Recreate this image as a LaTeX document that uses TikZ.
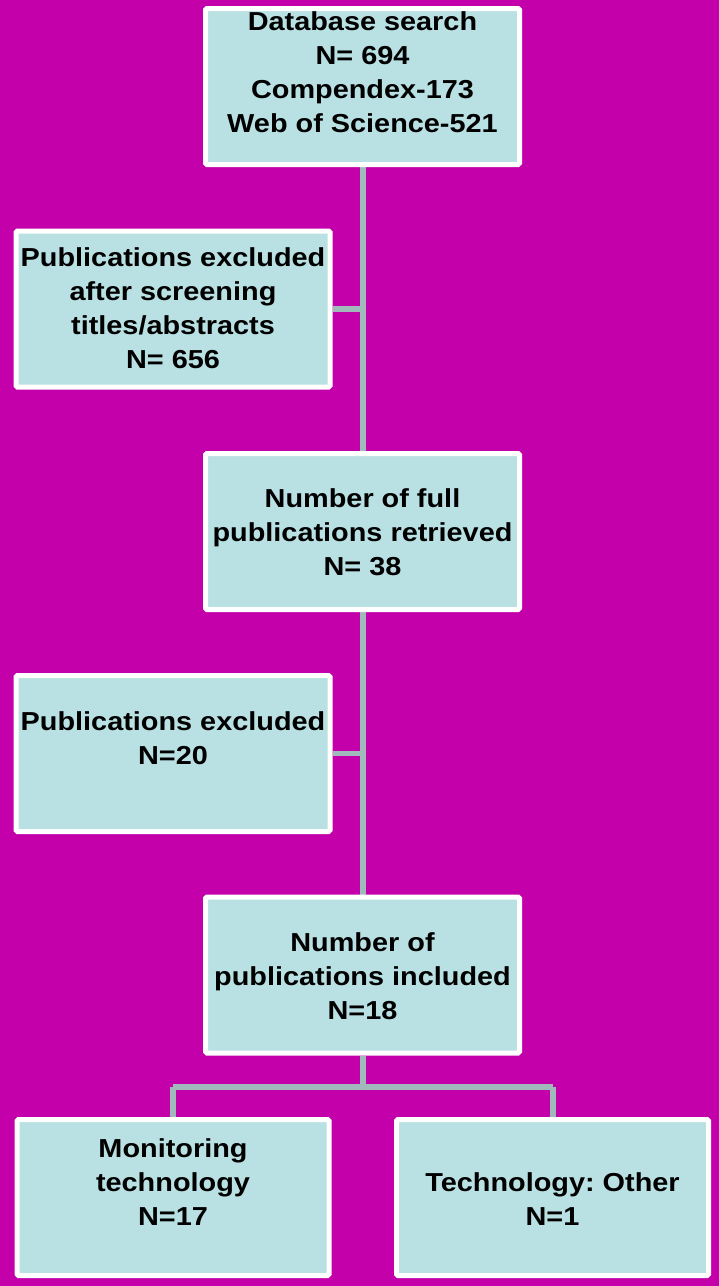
\documentclass[tikz,border=0pt]{standalone}
\usepackage{fontspec}
\setmainfont{Liberation Sans}[FakeStretch=1.11]
\usetikzlibrary{backgrounds}
\frenchspacing
\definecolor{bgmag}{RGB}{196,0,170}
\definecolor{boxfill}{RGB}{185,224,227}
\definecolor{linkcol}{RGB}{160,186,188}
\tikzset{
  flowbox/.style={draw=white, fill=boxfill, line width=5pt, rounded corners=1.5pt,
    minimum width=314pt, minimum height=156pt, outer sep=2.5pt, inner sep=0pt},
  lbl/.style={anchor=base, align=center, inner sep=0pt,
    font=\fontsize{26}{34}\selectfont\bfseries},
  link/.style={draw=linkcol, line width=6pt},
  hlink/.style={draw=linkcol, line width=5.5pt}
}
\begin{document}
\begin{tikzpicture}[x=1pt,y=-1pt]
\useasboundingbox (0,0) rectangle (719,1286);
% boxes
\node[flowbox] (b1) at (362.5,86.5) {};
\node[flowbox] (b2) at (173,309) {};
\node[flowbox] (b3) at (362.5,531.5) {};
\node[flowbox] (b4) at (173,753.5) {};
\node[flowbox] (b5) at (362.5,975) {};
\node[flowbox, minimum width=312pt] (b6) at (173,1197.5) {};
\node[flowbox, minimum width=312pt] (b7) at (552.5,1197.5) {};
% labels (anchored at the baseline of their last line)
\node[lbl] (t1) at (362.5,132) {Database search\\N= 694\\Compendex-173\\Web of Science-521};
\node[lbl] (t2) at (173,368) {Publications excluded\\after screening\\titles/abstracts\\N= 656};
\node[lbl] (t3) at (362.5,575) {Number of full\\publications retrieved\\N= 38};
\node[lbl] (t4) at (173,764) {Publications excluded\\N=20};
\node[lbl] (t5) at (362.5,1019) {Number of\\publications included\\N=18};
\node[lbl] (t6) at (173,1225) {Monitoring\\technology\\N=17};
\node[lbl] (t7) at (552.5,1225) {Technology: Other\\N=1};
% connectors
\coordinate (j) at (362.5,1087);
\begin{pgfonlayer}{background}
\fill[bgmag] (0,0) rectangle (719,1286);
\draw[link] (b1.south) -- (b3.north);
\draw[link] (b3.south) -- (b5.north);
\draw[hlink] (b2.east) -- (b2.east -| b1.south);
\draw[hlink] (b4.east) -- (b4.east -| b3.south);
\draw[link] (b5.south) -- (j);
\draw[hlink] (j -| b6.north) -- (j -| b7.north);
\draw[link] (j -| b6.north) -- (b6.north);
\draw[link] (j -| b7.north) -- (b7.north);
\end{pgfonlayer}
\end{tikzpicture}
\end{document}
